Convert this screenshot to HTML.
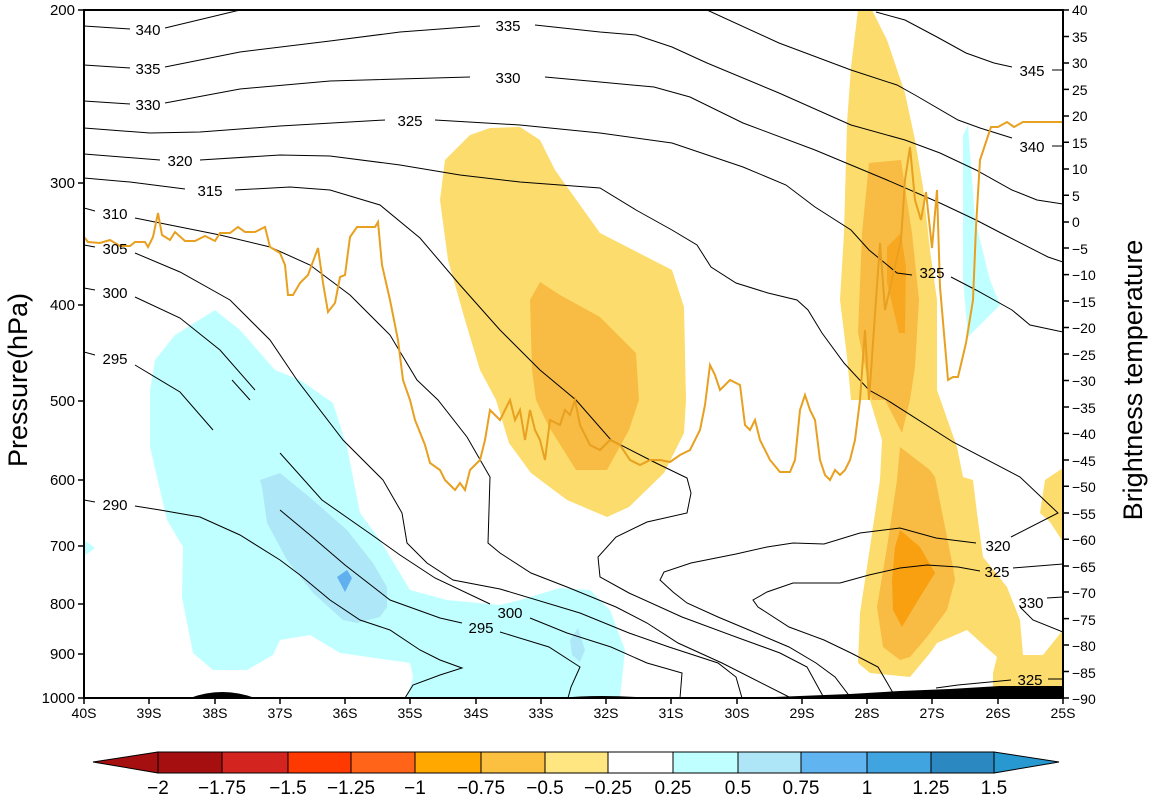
<!DOCTYPE html>
<html><head><meta charset="utf-8"><style>
html,body{margin:0;padding:0;background:#fff;}
svg{display:block;}
text{font-family:"Liberation Sans",sans-serif;}
</style></head><body>
<svg width="1162" height="802" viewBox="0 0 1162 802" xmlns="http://www.w3.org/2000/svg">
<defs><clipPath id="c"><rect x="84" y="10" width="979" height="688"/></clipPath></defs>
<g clip-path="url(#c)">
<!-- blue -->
<polygon fill="#c0ffff" points="150,390 155,360 175,335 215,310 240,330 275,370 300,380 333,403 347,447 360,513 380,540 410,590 447,600 500,605 520,600 560,588 590,590 610,610 625,650 620,698 407,698 413,677 410,663 340,653 310,635 280,640 273,655 247,670 213,670 193,653 182,597 183,547 167,520 150,447"/>
<polygon fill="#c0ffff" points="84,540 95,548 84,556"/>
<polygon fill="#aee8f8" points="260,480 280,473 313,500 347,530 373,563 387,587 387,607 380,617 357,623 343,620 313,593 287,560 267,523 262,487"/>
<polygon fill="#aee8f8" points="570,640 578,628 585,650 580,662 572,655"/>
<polygon fill="#60b0f0" points="337,577 347,570 352,578 345,592"/>
<polygon fill="#c0ffff" points="963,135 968,125 975,220 990,280 1000,305 985,320 968,337 963,280"/>
<!-- big central blob -->
<polygon fill="#fcdc6c" points="440,200 445,160 470,135 490,128 520,127 540,140 555,170 580,205 600,233 672,270 684,307 686,400 684,433 664,473 629,507 607,517 567,500 531,473 509,443 496,400 480,370 465,320 448,260"/>
<polygon fill="#f8bc44" points="530,300 540,282 560,295 600,317 636,353 639,400 629,430 607,470 576,470 549,427 536,400 532,370"/>
<!-- right band -->
<polygon fill="#fcdc6c" points="858,10 872,10 887,40 905,93 915,140 923,187 930,250 937,300 937,350 937,390 957,447 963,477 973,480 977,513 983,557 1007,587 1020,620 1023,655 1043,655 1063,630 1063,688 993,688 993,673 997,657 967,630 937,643 930,653 910,677 870,673 858,663 860,613 870,547 880,480 882,440 870,400 851,400 847,357 840,300 844,233 847,123 851,67"/>
<polygon fill="#fcdc6c" points="1063,468 1045,480 1040,513 1050,522 1063,542"/>
<polygon fill="#f8bc44" points="869,163 901,160 905,187 912,233 919,300 915,367 910,400 902,433 885,400 872,400 858,333 862,233 867,183"/>
<polygon fill="#f8a820" points="887,247 901,233 906,267 905,333 899,333 887,283"/>
<polygon fill="#f8bc44" points="900,447 930,470 935,477 953,567 955,580 947,610 927,637 910,657 900,660 883,647 877,607 887,547 897,480"/>
<polygon fill="#f8a010" points="900,530 920,547 935,573 920,597 902,627 893,610 892,580 895,547"/>
<!-- topography -->
<path fill="#000" d="M190,698 Q222,686 255,698Z M560,698 Q600,694 650,698Z M750,698 L850,694 L900,691 L950,689 L1000,686 L1063,686 L1063,698Z"/>
<!-- contours -->
<g fill="none" stroke="#000" stroke-width="1">
<polyline points="84,26 130,29"/><polyline points="165,28 240,10"/>
<polyline points="84,65 130,68"/><polyline points="165,67 240,52 330,41 400,32 480,26"/><polyline points="535,25 600,32 636,35 672,47 707,63 779,93 851,125 905,140 940,153 976,170 1012,190 1037,200 1063,204"/>
<polyline points="84,101 130,104"/><polyline points="165,103 240,89 330,81 470,77"/><polyline points="545,77 600,82 654,87 690,97 743,123 815,150 887,180 940,203 976,220 1001,233 1048,257 1063,262"/>
<polyline points="84,128 150,133 200,132 280,126 385,120"/><polyline points="435,120 520,125 600,133 672,143 743,167 786,185 815,207 851,230 869,250 897,273 912,275"/><polyline points="951,277 976,290 1012,310 1030,325 1063,332"/>
<polyline points="84,154 160,160"/><polyline points="200,160 280,155 330,156 400,165 460,175 520,182 600,188 636,210 672,230 697,245 711,267 736,283 768,293 797,300 808,310 822,333 844,363 869,390 887,400 953,442 1020,477 1058,513 1011,537"/><polyline points="976,543 936,538 900,528 860,533 824,544 793,543 767,547 736,554 691,563 664,572 660,580 673,592 687,603 718,617 749,630 789,647 816,663 835,677 851,698"/>
<polyline points="84,178 130,182 185,189"/><polyline points="235,190 290,187 330,190 380,205 420,238 460,285 500,330 540,370 576,400 611,440 656,463 687,478 691,493 687,513 647,522 616,537 598,557 600,577 629,593 682,617 736,637 780,653 807,667 824,698"/>
<polyline points="84,208 95,211"/><polyline points="135,218 220,235 270,247 310,265 350,295 390,335 417,380 438,400 467,437 490,477 488,543 500,553 531,573 567,587 616,607 647,623 678,643 722,663 791,698"/>
<polyline points="84,245 95,247"/><polyline points="135,253 180,272 230,300 270,340 297,380 343,440 383,480 402,513 407,543 427,563 453,580 500,589 580,613 629,633 669,647 718,663 736,677 742,698"/>
<polyline points="84,288 95,290"/><polyline points="135,297 180,318 220,350 255,390"/>
<polyline points="280,453 322,500 372,535 400,555 435,578 490,604"/><polyline points="530,618 567,633 611,647 647,663 682,673 680,698"/>
<polyline points="84,352 95,355"/><polyline points="135,365 180,392 213,430"/>
<polyline points="232,380 250,400"/>
<polyline points="280,510 310,535 345,565 390,600 440,618 462,623"/><polyline points="500,632 549,647 580,667 571,687 568,698"/>
<polyline points="84,500 95,502"/><polyline points="135,506 160,510 200,517 240,535 280,560 300,575 330,600 360,620 390,630 420,650 440,660 462,668 440,675 413,685 405,698"/>
<polyline points="1020,607 1033,620 1063,632"/><polyline points="1047,598 1063,597"/>
<polyline points="840,583 793,583 767,592 753,600 758,607 789,627 824,640 851,653 878,667 896,698"/><polyline points="840,583 869,575 900,568 927,565 958,567 980,571"/><polyline points="1013,568 1063,564"/>
<polyline points="936,688 958,685 1011,680"/><polyline points="1048,679 1063,679"/>
<polyline points="707,10 779,43 851,70 897,85 915,95 958,120 980,128 1012,138"/><polyline points="1052,146 1063,146"/>
<polyline points="876,12 905,20 937,37 966,53 994,63 1012,67"/><polyline points="1052,70 1063,70"/>
</g>
<!-- brightness temp line -->
<polyline fill="none" stroke="#e8a020" stroke-width="2" points="84,237 88,242 100,243 110,240 120,246 130,246 135,242 145,242 148,247 153,237 158,213 162,235 170,240 175,232 185,241 195,241 205,236 215,241 220,233 230,233 238,227 245,232 255,232 265,227 270,247 280,253 285,265 288,295 293,295 300,283 308,275 318,248 323,283 328,312 335,303 340,277 345,275 350,237 357,227 375,227 378,222 382,265 390,300 398,340 403,380 410,400 415,420 425,445 430,463 440,470 445,480 450,485 455,490 460,483 465,490 470,470 475,465 480,460 485,440 490,410 495,415 500,420 505,410 510,400 515,420 520,410 525,440 530,410 535,430 540,440 545,460 550,420 560,425 565,410 570,415 575,400 580,425 590,445 600,450 610,440 620,445 630,460 640,465 650,460 660,460 670,462 680,455 690,450 695,440 700,430 705,405 710,365 715,375 720,390 725,385 730,380 740,385 745,425 750,430 755,420 760,440 770,460 780,472 790,472 795,460 800,410 805,395 810,410 815,420 820,460 825,475 830,480 835,470 840,475 845,470 850,460 855,440 860,400 865,330 869,400 880,243 885,310 901,240 905,180 910,147 915,200 921,220 926,192 932,248 937,190 940,287 948,380 953,377 958,377 966,343 973,300 976,227 980,160 991,127 998,127 1007,122 1014,127 1023,122 1062,122 1066,127"/>
</g>
<!-- contour labels -->
<g font-size="15" text-anchor="middle" fill="#000">
<text x="148" y="35">340</text><text x="148" y="74">335</text><text x="148" y="110">330</text>
<text x="508" y="31">335</text><text x="508" y="83">330</text><text x="410" y="126">325</text>
<text x="180" y="166">320</text><text x="210" y="196">315</text>
<text x="115" y="219">310</text><text x="115" y="254">305</text><text x="115" y="298">300</text><text x="115" y="364">295</text><text x="115" y="510">290</text>
<text x="510" y="618">300</text><text x="481" y="633">295</text>
<text x="932" y="278">325</text><text x="1032" y="76">345</text><text x="1032" y="152">340</text>
<text x="998" y="551">320</text><text x="997" y="577">325</text><text x="1031" y="608">330</text><text x="1030" y="685">325</text>
</g>
<!-- axes frame -->
<rect x="84" y="10" width="979" height="688" fill="none" stroke="#000" stroke-width="2"/>
<g stroke="#000" stroke-width="1.5">
<line x1="78" y1="10" x2="84" y2="10"/><line x1="78" y1="183" x2="84" y2="183"/><line x1="78" y1="305" x2="84" y2="305"/><line x1="78" y1="401" x2="84" y2="401"/><line x1="78" y1="480" x2="84" y2="480"/><line x1="78" y1="546" x2="84" y2="546"/><line x1="78" y1="604" x2="84" y2="604"/><line x1="78" y1="654" x2="84" y2="654"/><line x1="78" y1="698" x2="84" y2="698"/>
</g>
<g font-size="15" text-anchor="end">
<text x="75" y="15">200</text><text x="75" y="188">300</text><text x="75" y="310">400</text><text x="75" y="406">500</text><text x="75" y="485">600</text><text x="75" y="551">700</text><text x="75" y="609">800</text><text x="75" y="659">900</text><text x="75" y="703">1000</text>
</g>
<g font-size="14" text-anchor="middle">
<text x="84" y="718">40S</text><text x="149" y="718">39S</text><text x="215" y="718">38S</text><text x="280" y="718">37S</text><text x="345" y="718">36S</text><text x="410" y="718">35S</text><text x="476" y="718">34S</text><text x="541" y="718">33S</text><text x="606" y="718">32S</text><text x="671" y="718">31S</text><text x="737" y="718">30S</text><text x="802" y="718">29S</text><text x="867" y="718">28S</text><text x="932" y="718">27S</text><text x="998" y="718">26S</text><text x="1063" y="718">25S</text>
</g>
<g stroke="#000" stroke-width="1.5">
<path d="M84,698v6M149,698v6M215,698v6M280,698v6M345,698v6M410,698v6M476,698v6M541,698v6M606,698v6M671,698v6M737,698v6M802,698v6M867,698v6M932,698v6M998,698v6M1063,698v6"/>
</g>
<g font-size="14">
<text x="1072" y="15">40</text><text x="1072" y="42">35</text><text x="1072" y="68">30</text><text x="1072" y="95">25</text><text x="1072" y="121">20</text><text x="1072" y="148">15</text><text x="1072" y="174">10</text><text x="1072" y="201">5</text><text x="1072" y="227">0</text><text x="1072" y="254">−5</text><text x="1072" y="280">−10</text><text x="1072" y="307">−15</text><text x="1072" y="333">−20</text><text x="1072" y="360">−25</text><text x="1072" y="386">−30</text><text x="1072" y="413">−35</text><text x="1072" y="439">−40</text><text x="1072" y="466">−45</text><text x="1072" y="492">−50</text><text x="1072" y="519">−55</text><text x="1072" y="545">−60</text><text x="1072" y="572">−65</text><text x="1072" y="598">−70</text><text x="1072" y="625">−75</text><text x="1072" y="651">−80</text><text x="1072" y="678">−85</text><text x="1072" y="704">−90</text>
</g>
<g stroke="#000" stroke-width="1.5">
<path d="M1063,10h6M1063,36.5h6M1063,63h6M1063,89.4h6M1063,116h6M1063,142.3h6M1063,169h6M1063,195.2h6M1063,222h6M1063,248h6M1063,274.6h6M1063,301h6M1063,327.5h6M1063,354h6M1063,380.5h6M1063,407h6M1063,433.4h6M1063,460h6M1063,486.3h6M1063,513h6M1063,539.2h6M1063,566h6M1063,592h6M1063,618.6h6M1063,645h6M1063,671.5h6M1063,698h6"/>
</g>
<text x="0" y="0" font-size="27" text-anchor="middle" transform="translate(27,380) rotate(-90)">Pressure(hPa)</text>
<text x="0" y="0" font-size="27" text-anchor="middle" transform="translate(1142,380) rotate(-90)">Brightness  temperature</text>
<!-- colorbar -->
<g stroke="#000" stroke-width="1">
<polygon points="93,762 158,752 158,773" fill="#a50f0f"/>
<rect x="158" y="752" width="64" height="21" fill="#a50f0f"/>
<rect x="222" y="752" width="66" height="21" fill="#d42420"/>
<rect x="288" y="752" width="63" height="21" fill="#ff3a00"/>
<rect x="351" y="752" width="64" height="21" fill="#ff6418"/>
<rect x="415" y="752" width="66" height="21" fill="#ffa800"/>
<rect x="481" y="752" width="64" height="21" fill="#fcc040"/>
<rect x="545" y="752" width="63" height="21" fill="#ffe680"/>
<rect x="608" y="752" width="65" height="21" fill="#ffffff"/>
<rect x="673" y="752" width="65" height="21" fill="#c0ffff"/>
<rect x="738" y="752" width="63" height="21" fill="#aee6f8"/>
<rect x="801" y="752" width="66" height="21" fill="#60b4f0"/>
<rect x="867" y="752" width="64" height="21" fill="#40a4e0"/>
<rect x="931" y="752" width="63" height="21" fill="#2c88c0"/>
<polygon points="994,752 1059,762 994,773" fill="#2898d0"/>
</g>
<g font-size="19" text-anchor="middle">
<text x="158" y="794">−2</text><text x="222" y="794">−1.75</text><text x="288" y="794">−1.5</text><text x="351" y="794">−1.25</text><text x="415" y="794">−1</text><text x="481" y="794">−0.75</text><text x="545" y="794">−0.5</text><text x="608" y="794">−0.25</text><text x="673" y="794">0.25</text><text x="738" y="794">0.5</text><text x="801" y="794">0.75</text><text x="867" y="794">1</text><text x="931" y="794">1.25</text><text x="994" y="794">1.5</text>
</g>
</svg>
</body></html>
